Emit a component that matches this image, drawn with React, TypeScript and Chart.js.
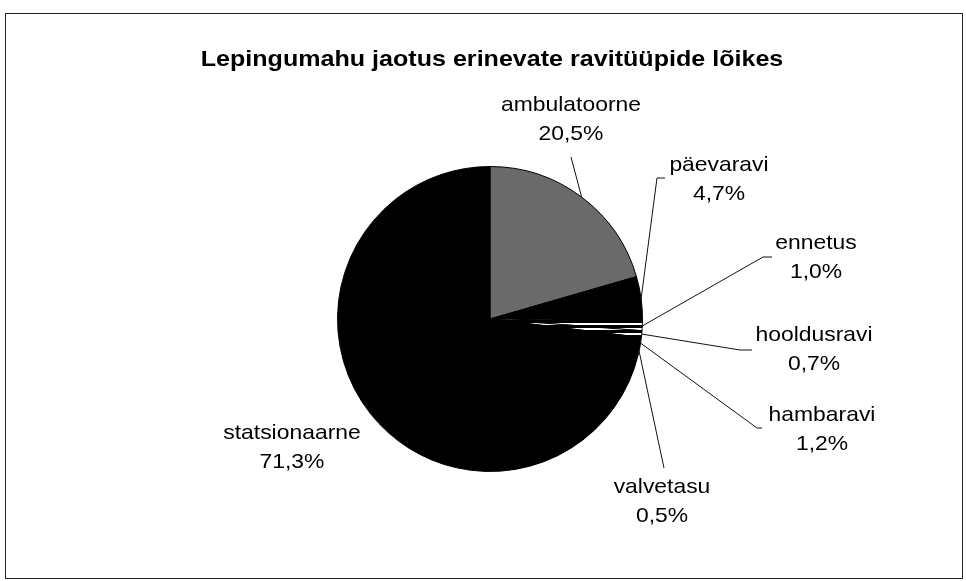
import React, { useEffect, useRef } from "react";
import { Chart, registerables } from "chart.js";

Chart.register(...registerables);

// ---- data ----
const categories = [
  "ambulatoorne",
  "päevaravi",
  "ennetus",
  "hooldusravi",
  "hambaravi",
  "valvetasu",
  "statsionaarne",
];
const shares = [20.5, 4.7, 1.0, 0.7, 1.2, 0.5, 71.3];
const shareLabels = shares.map((v) => v.toFixed(1).replace(".", ",") + "%");
const titleText = "Lepingumahu jaotus erinevate ravitüüpide lõikes";

// ---- layout (label text centres and leader-line elbows) ----
const labelLayout: { x: number; y: number; path: number[][] }[] = [
  { x: 571, y: 105, path: [[571, 157]] },
  { x: 719, y: 165, path: [[665, 178], [657, 178]] },
  { x: 816, y: 243, path: [[772, 257], [763, 257]] },
  { x: 814, y: 335, path: [[752, 350], [740, 350]] },
  { x: 822, y: 415, path: [[762, 428], [757, 428]] },
  { x: 662, y: 487, path: [[664, 468]] },
  { x: 292, y: 433, path: [] },
];

const FONT = '"Liberation Sans", Arial, sans-serif';

function drawText(
  ctx: CanvasRenderingContext2D,
  text: string,
  x: number,
  y: number,
  font: string,
  sx: number
) {
  ctx.save();
  ctx.translate(x, y);
  ctx.scale(sx, 1);
  ctx.font = font;
  ctx.fillStyle = "#000";
  ctx.textAlign = "center";
  ctx.textBaseline = "middle";
  ctx.fillText(text, 0, 0);
  ctx.restore();
}

const annotatePlugin = {
  id: "annotate",
  afterDraw(chart: any) {
    const ctx: CanvasRenderingContext2D = chart.ctx;
    const meta = chart.getDatasetMeta(0);
    ctx.save();
    ctx.strokeStyle = "#222";
    ctx.lineWidth = 1;
    ctx.strokeRect(5.5, 13.5, 957, 565);

    drawText(ctx, titleText, 492, 60, `bold 22px ${FONT}`, 1.14);

    meta.data.forEach((arc: any, i: number) => {
      const p = arc.getProps(["x", "y", "startAngle", "endAngle", "outerRadius"], true);
      const mid = (p.startAngle + p.endAngle) / 2;
      const ex = p.x + Math.cos(mid) * p.outerRadius;
      const ey = p.y + Math.sin(mid) * p.outerRadius;
      const L = labelLayout[i];
      if (L.path.length) {
        ctx.beginPath();
        ctx.moveTo(L.path[0][0], L.path[0][1]);
        for (let k = 1; k < L.path.length; k++) ctx.lineTo(L.path[k][0], L.path[k][1]);
        ctx.lineTo(ex, ey);
        ctx.strokeStyle = "#111";
        ctx.lineWidth = 1;
        ctx.stroke();
      }
      drawText(ctx, categories[i], L.x, L.y, `21px ${FONT}`, 1.09);
      drawText(ctx, shareLabels[i], L.x, L.y + 29, `21px ${FONT}`, 1.09);
    });
    ctx.restore();
  },
};

function makeStripePattern(): CanvasPattern | string {
  const c = document.createElement("canvas");
  c.width = 4;
  c.height = 5;
  const g = c.getContext("2d");
  if (!g) return "#000";
  g.fillStyle = "#000";
  g.fillRect(0, 0, 4, 5);
  g.fillStyle = "#fff";
  g.fillRect(0, 3, 4, 2);
  const pat = g.createPattern(c, "repeat");
  return pat || "#000";
}

export default function App() {
  const ref = useRef<HTMLCanvasElement | null>(null);

  useEffect(() => {
    if (!ref.current) return;
    const stripes = makeStripePattern();
    const colors: any[] = ["#6a6a6a", "#000", stripes, stripes, "#000", "#000", "#000"];
    const chart = new Chart(ref.current, {
      type: "pie",
      data: {
        labels: categories,
        datasets: [
          {
            data: shares,
            backgroundColor: colors,
            borderColor: "#000",
            borderWidth: 1,
            hoverOffset: 0,
          },
        ],
      },
      options: {
        responsive: false,
        animation: false,
        events: [],
        layout: { padding: { top: 166, bottom: 109, left: 337, right: 323 } },
        plugins: {
          legend: { display: false },
          tooltip: { enabled: false },
          title: { display: false },
        },
      },
      plugins: [annotatePlugin],
    });
    return () => chart.destroy();
  }, []);

  return (
    <div style={{ position: "absolute", left: 0, top: 0, width: 966, height: 581, background: "#fff" }}>
      <canvas ref={ref} width={966} height={581} style={{ display: "block" }} />
    </div>
  );
}
